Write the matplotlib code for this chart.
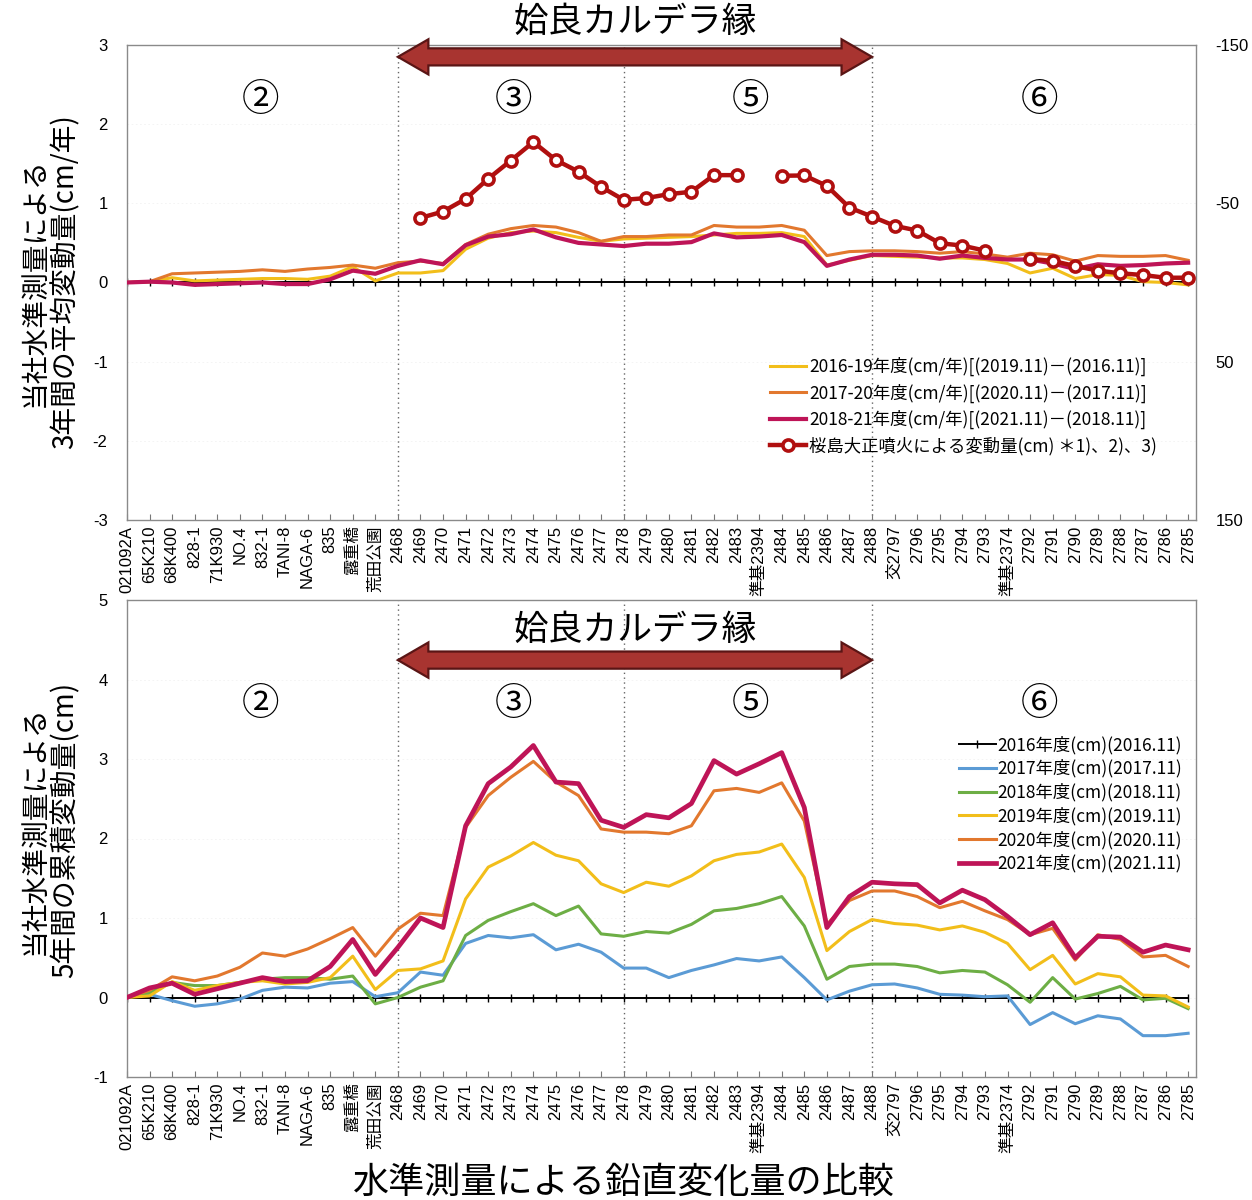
import numpy as np
import matplotlib.pyplot as plt
import matplotlib.transforms as mtransforms
from matplotlib.patches import Polygon

plt.rcParams['font.family'] = ['Noto Sans CJK JP', 'DejaVu Sans']
plt.rcParams['axes.unicode_minus'] = False

nan = np.nan

stations = ['021092A', '65K210', '68K400', '828-1', '71K930', 'NO.4', '832-1',
            'TANI-8', 'NAGA-6', '835', '露重橋', '荒田公園', '2468', '2469', '2470',
            '2471', '2472', '2473', '2474', '2475', '2476', '2477', '2478', '2479',
            '2480', '2481', '2482', '2483', '準基2394', '2484', '2485', '2486', '2487',
            '2488', '交2797', '2796', '2795', '2794', '2793', '準基2374', '2792', '2791',
            '2790', '2789', '2788', '2787', '2786', '2785']

# 3-year mean vertical rates (cm/yr)
rate_16_19 = [0, 0.01, 0.06, 0.02, 0.03, 0.04, 0.05, 0.05, 0.04, 0.08, 0.20, 0.02,
              0.12, 0.12, 0.15, 0.42, 0.56, 0.63, 0.65, 0.63, 0.57, 0.52, 0.55, 0.56,
              0.57, 0.58, 0.60, 0.62, 0.62, 0.63, 0.58, 0.22, 0.28, 0.34, 0.33, 0.32,
              0.31, 0.31, 0.29, 0.24, 0.12, 0.18, 0.05, 0.10, 0.09, 0.01, 0.0, -0.03]
rate_17_20 = [0, 0.01, 0.11, 0.12, 0.13, 0.14, 0.16, 0.14, 0.17, 0.19, 0.22, 0.18,
              0.25, 0.27, 0.24, 0.48, 0.61, 0.68, 0.72, 0.70, 0.63, 0.52, 0.58, 0.58,
              0.60, 0.60, 0.72, 0.70, 0.70, 0.72, 0.66, 0.34, 0.39, 0.40, 0.40, 0.39,
              0.37, 0.39, 0.36, 0.32, 0.37, 0.35, 0.27, 0.34, 0.33, 0.33, 0.34, 0.28]
rate_18_21 = [0, 0.01, 0.0, -0.03, -0.02, -0.01, 0.0, -0.02, -0.02, 0.04, 0.15, 0.11,
              0.21, 0.28, 0.23, 0.47, 0.58, 0.61, 0.67, 0.57, 0.50, 0.48, 0.46, 0.49,
              0.49, 0.51, 0.62, 0.57, 0.58, 0.60, 0.51, 0.21, 0.29, 0.35, 0.35, 0.34,
              0.30, 0.34, 0.31, 0.29, 0.29, 0.24, 0.17, 0.23, 0.21, 0.22, 0.24, 0.25]
# displacement by the 1914 Sakurajima (Taisho) eruption, cm (right axis)
taisho = [nan] * 13 + [-40.8, -44.8, -52.8, -65.5, -77.0, -88.7, -77.3, -70.0, -60.4,
                       -52.2, -53.3, -55.8, -57.3, -67.8, -67.8, nan, -67.4, -67.6,
                       -61.0, -47.3, -41.6, -35.8, -32.8, -24.8, -23.3, -20.1, nan,
                       -14.9, -13.6, -10.4, -7.5, -5.8, -4.7, -3.0, -3.0]

# cumulative vertical change since 2016.11 (cm)
cum_2016 = [0.0] * 48
cum_2017 = [0, 0.04, -0.04, -0.11, -0.08, -0.02, 0.09, 0.13, 0.12, 0.18, 0.20, 0.01,
            0.06, 0.32, 0.28, 0.68, 0.78, 0.75, 0.79, 0.60, 0.67, 0.57, 0.37, 0.37,
            0.25, 0.34, 0.41, 0.49, 0.46, 0.51, 0.25, -0.03, 0.08, 0.16, 0.17, 0.12,
            0.04, 0.03, 0.01, 0.02, -0.34, -0.19, -0.33, -0.23, -0.27, -0.48, -0.48, -0.45]
cum_2018 = [0, 0.06, 0.19, 0.15, 0.15, 0.19, 0.23, 0.25, 0.25, 0.23, 0.27, -0.08,
            0.0, 0.13, 0.21, 0.78, 0.97, 1.08, 1.18, 1.03, 1.15, 0.80, 0.77, 0.83,
            0.81, 0.92, 1.09, 1.12, 1.18, 1.27, 0.90, 0.23, 0.39, 0.42, 0.42, 0.39,
            0.31, 0.34, 0.32, 0.16, -0.06, 0.25, -0.02, 0.05, 0.14, -0.03, -0.01, -0.14]
cum_2019 = [0, 0.02, 0.20, 0.09, 0.15, 0.19, 0.21, 0.17, 0.19, 0.25, 0.52, 0.10,
            0.34, 0.36, 0.46, 1.24, 1.64, 1.78, 1.95, 1.79, 1.72, 1.43, 1.32, 1.45,
            1.40, 1.53, 1.72, 1.80, 1.83, 1.93, 1.51, 0.59, 0.83, 0.98, 0.93, 0.91,
            0.85, 0.90, 0.82, 0.68, 0.35, 0.53, 0.17, 0.30, 0.26, 0.03, 0.02, -0.12]
cum_2020 = [0, 0.09, 0.26, 0.21, 0.27, 0.38, 0.56, 0.52, 0.61, 0.74, 0.88, 0.52,
            0.86, 1.06, 1.03, 2.14, 2.54, 2.77, 2.97, 2.71, 2.54, 2.12, 2.08, 2.08,
            2.06, 2.16, 2.60, 2.63, 2.58, 2.70, 2.22, 0.92, 1.22, 1.34, 1.34, 1.27,
            1.13, 1.21, 1.09, 0.98, 0.79, 0.87, 0.47, 0.79, 0.73, 0.51, 0.53, 0.39]
cum_2021 = [0, 0.12, 0.18, 0.04, 0.11, 0.18, 0.25, 0.20, 0.21, 0.39, 0.73, 0.29,
            0.63, 1.00, 0.88, 2.16, 2.69, 2.90, 3.17, 2.71, 2.69, 2.23, 2.14, 2.30,
            2.26, 2.44, 2.98, 2.81, 2.94, 3.08, 2.39, 0.88, 1.27, 1.45, 1.43, 1.42,
            1.19, 1.35, 1.23, 1.02, 0.79, 0.94, 0.50, 0.77, 0.76, 0.57, 0.66, 0.60]

# section boundaries (2468, 2478, 2488) and area numbers
boundaries = [12, 22, 33]
areas = ['②', '③', '⑤', '⑥']
area_x = [5.9, 17.1, 27.6, 40.4]

YELLOW = '#F2BE1A'
ORANGE = '#E2782E'
CRIMSON = '#BE1457'
RED = '#B00F0F'
BLUE = '#5B9BD5'
GREEN = '#6DAE45'

x = np.arange(len(stations))
tick_font = ['Liberation Sans', 'Noto Sans CJK JP']

fig = plt.figure(figsize=(12.52, 12), dpi=100)
ax1 = fig.add_axes([0.1014, 0.5667, 0.8539, 0.3958])
ax2 = fig.add_axes([0.1014, 0.1025, 0.8539, 0.3975])


def caldera_arrow(ax, x0, x1, yc):
    # double-headed block arrow over the caldera rim section
    tr = mtransforms.blended_transform_factory(ax.transData, ax.transAxes)
    hl, bh, hh = 1.35, 0.018, 0.037
    verts = [(x0, yc), (x0 + hl, yc + hh), (x0 + hl, yc + bh), (x1 - hl, yc + bh),
             (x1 - hl, yc + hh), (x1, yc), (x1 - hl, yc - hh), (x1 - hl, yc - bh),
             (x0 + hl, yc - bh), (x0 + hl, yc - hh)]
    ax.add_patch(Polygon(verts, closed=True, transform=tr, fc='#A83430',
                         ec='#5A1515', lw=1.6, clip_on=False, zorder=6))


def style_axes(ax, ylim, yticks, arrow_y, title_y, area_y):
    ax.set_xlim(0, 47.35)
    ax.set_ylim(*ylim)
    ax.set_yticks(yticks)
    ax.set_xticks(x)
    ax.set_xticklabels(stations, rotation=90, fontsize=12, family=tick_font)
    for lab in ax.get_yticklabels():
        lab.set_family(tick_font)
    ax.tick_params(axis='x', direction='in', length=4, color='#777777', pad=4)
    ax.tick_params(axis='y', length=0, labelsize=12, pad=14)
    for s in ax.spines.values():
        s.set_color('#8a8a8a')
        s.set_linewidth(1.0)
    for yv in yticks:
        ax.axhline(yv, color='#f2f2f2', lw=0.6, ls=(0, (2, 3)), zorder=0)
    for b in boundaries:
        ax.axvline(b, color='#666666', lw=1.0, ls=(0, (1, 2.5)), zorder=1)
    caldera_arrow(ax, boundaries[0], boundaries[-1], arrow_y)
    ax.text(22.5, title_y, '姶良カルデラ縁', transform=mtransforms.blended_transform_factory(
        ax.transData, ax.transAxes), ha='center', va='center', fontsize=25, clip_on=False)
    for ax_x, lab in zip(area_x, areas):
        ax.text(ax_x, area_y, lab, transform=mtransforms.blended_transform_factory(
            ax.transData, ax.transAxes), ha='center', va='center', fontsize=27)


# upper panel: 3-year mean rates
style_axes(ax1, (-3, 3), [-3, -2, -1, 0, 1, 2, 3], 0.975, 1.048, 0.884)
ax1.plot(x, np.zeros(len(x)), color='black', lw=1.4, marker='|', ms=6, mew=1.0, zorder=2)
l1, = ax1.plot(x, rate_16_19, color=YELLOW, lw=2.2, zorder=3,
               label='2016-19年度(cm/年)[(2019.11)－(2016.11)]')
l2, = ax1.plot(x, rate_17_20, color=ORANGE, lw=2.2, zorder=3,
               label='2017-20年度(cm/年)[(2020.11)－(2017.11)]')
l3, = ax1.plot(x, rate_18_21, color=CRIMSON, lw=3.0, zorder=4,
               label='2018-21年度(cm/年)[(2021.11)－(2018.11)]')
ax1r = ax1.twinx()
ax1r.set_ylim(150, -150)
ax1r.set_yticks([-150, -50, 50, 150])
ax1r.tick_params(axis='y', length=0, labelsize=12, pad=14)
for lab in ax1r.get_yticklabels():
    lab.set_family(tick_font)
for s in ax1r.spines.values():
    s.set_visible(False)
l4, = ax1r.plot(x, taisho, color=RED, lw=3.2, marker='o', ms=8, mfc='white',
                mec=RED, mew=2.6, zorder=5, label='桜島大正噴火による変動量(cm) ＊1)、2)、3)')
ax1.legend(handles=[l1, l2, l3, l4], loc='upper left', bbox_to_anchor=(0.595, 0.358),
           frameon=False, fontsize=12.5, handlelength=2.1, handletextpad=0.15,
           labelspacing=0.42, borderaxespad=0)

# lower panel: 5-year cumulative change
style_axes(ax2, (-1, 5), [-1, 0, 1, 2, 3, 4, 5], 0.874, 0.937, 0.78)
series = [(cum_2016, 'black', 1.4, '2016年度(cm)(2016.11)'),
          (cum_2017, BLUE, 2.2, '2017年度(cm)(2017.11)'),
          (cum_2018, GREEN, 2.2, '2018年度(cm)(2018.11)'),
          (cum_2019, YELLOW, 2.2, '2019年度(cm)(2019.11)'),
          (cum_2020, ORANGE, 2.2, '2020年度(cm)(2020.11)'),
          (cum_2021, CRIMSON, 3.4, '2021年度(cm)(2021.11)')]
handles = []
for i, (vals, col, lw, lab) in enumerate(series):
    if i == 0:
        h, = ax2.plot(x, vals, color=col, lw=lw, marker='|', ms=6, mew=1.0,
                      zorder=2, label=lab)
    else:
        h, = ax2.plot(x, vals, color=col, lw=lw, zorder=2 + i, label=lab)
    handles.append(h)
ax2.legend(handles=handles, loc='upper left', bbox_to_anchor=(0.772, 0.73),
           frameon=False, fontsize=12.5, handlelength=2.1, handletextpad=0.1,
           labelspacing=0.3, borderaxespad=0)

fig.text(0.04, 0.765, '当社水準測量による\n3年間の平均変動量(cm/年)', rotation=90,
         ha='center', va='center', fontsize=20, multialignment='center', linespacing=1.05)
fig.text(0.04, 0.308, '当社水準測量による\n5年間の累積変動量(cm)', rotation=90,
         ha='center', va='center', fontsize=20, multialignment='center', linespacing=1.05)
fig.text(0.498, 0.014, '水準測量による鉛直変化量の比較', ha='center', va='center', fontsize=26)

fig.savefig('out.png', dpi=100)
